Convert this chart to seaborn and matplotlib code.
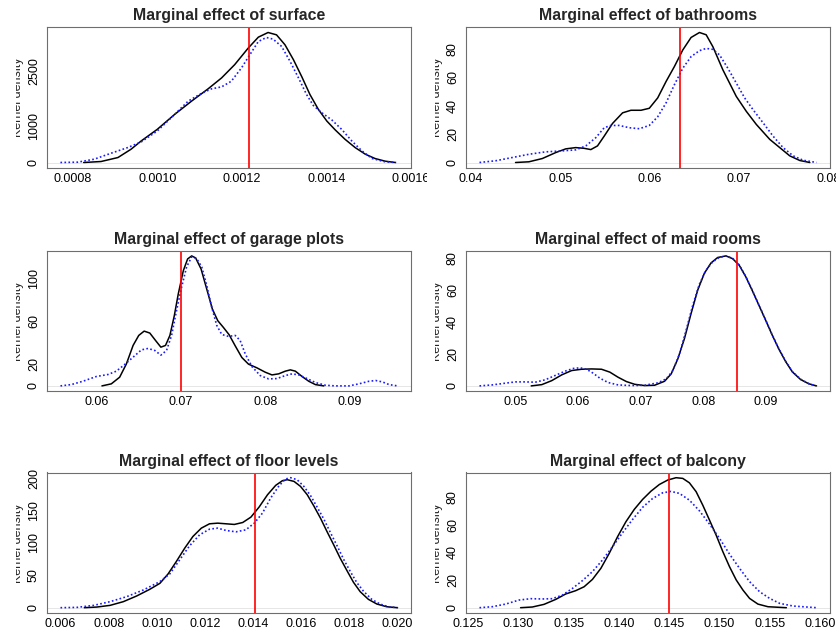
#!/usr/bin/env python3
"""Kernel densities of six marginal effects (3x2 grid, R base-graphics look)."""

import matplotlib

matplotlib.use("Agg")
import matplotlib.pyplot as plt
import seaborn as sns
from matplotlib.transforms import Bbox, TransformedBbox

FIG_W, FIG_H = 836, 633

# --- surface -------------------------------------------------------------
SURFACE_X_SOLID = [0.000826, 0.000867, 0.000907, 0.000938, 0.000962, 0.001000, 0.001041,
                   0.001081, 0.001120, 0.001152, 0.001183, 0.001215, 0.001239, 0.001262,
                   0.001282, 0.001302, 0.001322, 0.001342, 0.001361, 0.001381, 0.001401,
                   0.001421, 0.001444, 0.001468, 0.001492, 0.001515, 0.001539, 0.001563]
SURFACE_Y_SOLID = [0, 27, 136, 364, 591, 909, 1318, 1682, 2018, 2318, 2682, 3136, 3436,
                   3564, 3500, 3227, 2818, 2345, 1864, 1455, 1136, 891, 636, 409, 227,
                   109, 36, 0]
SURFACE_X_DOTTED = [0.000771, 0.000812, 0.000851, 0.000891, 0.000930, 0.000962, 0.001000,
                    0.001033, 0.001073, 0.001104, 0.001128, 0.001152, 0.001175, 0.001199,
                    0.001219, 0.001239, 0.001258, 0.001274, 0.001294, 0.001314, 0.001334,
                    0.001353, 0.001369, 0.001389, 0.001413, 0.001436, 0.001460, 0.001484,
                    0.001508, 0.001539, 0.001565]
SURFACE_Y_DOTTED = [0, 9, 91, 255, 409, 564, 864, 1227, 1682, 1891, 2018, 2073, 2227,
                    2591, 2955, 3318, 3427, 3382, 3182, 2773, 2318, 1864, 1564, 1364,
                    1164, 909, 591, 318, 109, 18, 0]
SURFACE_ESTIMATE = 0.001216

# --- bathrooms -----------------------------------------------------------
BATH_X_SOLID = [0.04498, 0.04648, 0.04798, 0.04948, 0.05060, 0.05172, 0.05266, 0.05341,
                0.05416, 0.05491, 0.05584, 0.05697, 0.05790, 0.05903, 0.05996, 0.06090,
                0.06184, 0.06277, 0.06371, 0.06464, 0.06558, 0.06633, 0.06708, 0.06820,
                0.06970, 0.07082, 0.07195, 0.07345, 0.07457, 0.07569, 0.07682, 0.07794]
BATH_Y_SOLID = [0, 0.5, 2.8, 7.0, 9.6, 10.5, 10.0, 9.1, 11.7, 18.6, 27.5, 35.0, 36.8, 36.8,
                38.2, 45.5, 57.1, 67.6, 79.3, 88.1, 91.6, 90.0, 81.6, 65.3, 46.6, 36.1,
                26.8, 16.3, 10.5, 4.7, 1.4, 0]
BATH_X_DOTTED = [0.04094, 0.04273, 0.04461, 0.04648, 0.04835, 0.05022, 0.05172, 0.05285,
                 0.05397, 0.05491, 0.05566, 0.05659, 0.05772, 0.05884, 0.05996, 0.06090,
                 0.06184, 0.06277, 0.06371, 0.06464, 0.06558, 0.06633, 0.06708, 0.06783,
                 0.06876, 0.06970, 0.07064, 0.07157, 0.07270, 0.07382, 0.07494, 0.07607,
                 0.07719, 0.07869]
BATH_Y_DOTTED = [0, 1.2, 3.5, 5.8, 7.5, 8.2, 8.9, 11.7, 17.5, 24.5, 26.1, 26.1, 24.5, 23.8,
                 26.1, 32.2, 42.0, 54.8, 66.4, 74.6, 78.8, 80.4, 79.7, 75.8, 66.4, 56.0,
                 45.5, 37.3, 28.0, 18.6, 10.5, 4.7, 1.6, 0]
BATH_ESTIMATE = 0.06337

# --- garage plots --------------------------------------------------------
GARAGE_X_SOLID = [0.06067, 0.06178, 0.06277, 0.06357, 0.06436, 0.06503, 0.06567, 0.06634,
                  0.06702, 0.06765, 0.06820, 0.06872, 0.06924, 0.06971, 0.07031, 0.07082,
                  0.07130, 0.07177, 0.07241, 0.07308, 0.07375, 0.07439, 0.07506, 0.07574,
                  0.07645, 0.07724, 0.07803, 0.07902, 0.08002, 0.08081, 0.08160, 0.08239,
                  0.08299, 0.08358, 0.08438, 0.08517, 0.08596, 0.08695]
GARAGE_Y_SOLID = [0, 1.9, 8.1, 20.5, 37.6, 46.9, 50.9, 49.1, 42.2, 36.0, 37.6, 46.9, 65.2,
                  85.4, 107.1, 118.0, 120.8, 118.9, 108.7, 90.1, 71.4, 60.6, 54.3, 47.5,
                  37.3, 26.4, 20.2, 16.8, 12.7, 10.2, 11.2, 13.7, 14.9, 13.7, 8.7, 4.3,
                  1.2, 0]
GARAGE_X_DOTTED = [0.05576, 0.05703, 0.05841, 0.06000, 0.06139, 0.06238, 0.06337, 0.06436,
                   0.06535, 0.06614, 0.06694, 0.06765, 0.06832, 0.06892, 0.06951, 0.07011,
                   0.07070, 0.07130, 0.07189, 0.07249, 0.07308, 0.07367, 0.07427, 0.07486,
                   0.07566, 0.07645, 0.07704, 0.07764, 0.07843, 0.07942, 0.08041, 0.08140,
                   0.08239, 0.08319, 0.08398, 0.08477, 0.08596, 0.08715, 0.08834, 0.08993,
                   0.09111, 0.09230, 0.09310, 0.09389, 0.09469, 0.09568]
GARAGE_Y_DOTTED = [0, 1.2, 4.3, 8.7, 10.6, 13.7, 19.9, 26.7, 33.5, 34.8, 32.9, 28.6, 32.9,
                   46.9, 70.2, 91.9, 110.6, 119.9, 118.3, 110.6, 93.5, 73.3, 56.2, 47.8,
                   46.0, 46.9, 42.2, 29.8, 18.0, 9.6, 6.5, 6.8, 9.6, 11.2, 10.2, 7.5, 3.1,
                   0.6, 0, 0, 1.9, 4.3, 5.0, 3.7, 1.2, 0]
GARAGE_ESTIMATE = 0.0700

# --- maid rooms ----------------------------------------------------------
MAID_X_SOLID = [0.05254, 0.05424, 0.05583, 0.05742, 0.05901, 0.06060, 0.06219, 0.06377,
                0.06510, 0.06642, 0.06775, 0.06907, 0.07066, 0.07225, 0.07384, 0.07490,
                0.07596, 0.07702, 0.07808, 0.07914, 0.08020, 0.08126, 0.08232, 0.08364,
                0.08470, 0.08576, 0.08682, 0.08788, 0.08894, 0.09000, 0.09106, 0.09212,
                0.09318, 0.09424, 0.09556, 0.09689, 0.09811]
MAID_Y_SOLID = [0, 0.8, 3.3, 6.9, 9.6, 10.4, 10.6, 10.4, 8.6, 5.4, 2.7, 1.0, 0.2, 0.4,
                2.9, 7.5, 16.9, 29.6, 45.3, 59.9, 70.4, 76.8, 80.2, 81.2, 79.5, 75.4,
                68.1, 59.3, 50.1, 40.9, 31.5, 22.8, 15.2, 8.8, 4.0, 1.3, 0]
MAID_X_DOTTED = [0.04428, 0.04629, 0.04841, 0.05000, 0.05159, 0.05318, 0.05477, 0.05636,
                 0.05795, 0.05927, 0.06033, 0.06139, 0.06245, 0.06351, 0.06483, 0.06642,
                 0.06854, 0.07066, 0.07278, 0.07411, 0.07517, 0.07623, 0.07728, 0.07834,
                 0.07940, 0.08046, 0.08152, 0.08258, 0.08364, 0.08470, 0.08576, 0.08682,
                 0.08788, 0.08894, 0.09000, 0.09106, 0.09212, 0.09318, 0.09424, 0.09556,
                 0.09689, 0.09795]
MAID_Y_DOTTED = [0, 0.6, 1.7, 2.5, 2.5, 2.3, 3.8, 6.5, 9.2, 10.9, 11.3, 10.4, 7.9, 4.8,
                 2.1, 0.6, 0.2, 0.4, 1.9, 4.4, 9.6, 20.0, 34.7, 50.3, 63.5, 72.2, 77.5,
                 80.2, 81.2, 79.7, 75.6, 68.3, 59.5, 50.3, 41.1, 31.7, 23.0, 15.4, 9.0,
                 4.2, 1.4, 0]
MAID_ESTIMATE = 0.08534

# --- floor levels --------------------------------------------------------
FLOOR_X_SOLID = [0.00699, 0.00751, 0.00806, 0.00861, 0.00916, 0.00971, 0.01013, 0.01047,
                 0.01081, 0.01116, 0.01150, 0.01185, 0.01219, 0.01253, 0.01288, 0.01322,
                 0.01357, 0.01391, 0.01425, 0.01460, 0.01494, 0.01522, 0.01542, 0.01570,
                 0.01597, 0.01625, 0.01652, 0.01680, 0.01707, 0.01735, 0.01762, 0.01790,
                 0.01817, 0.01845, 0.01879, 0.01914, 0.01955, 0.02000]
FLOOR_Y_SOLID = [0, 1.0, 3.6, 9.3, 18.0, 28.4, 37.6, 52.1, 71.1, 91.8, 109.8, 122.7,
                 129.4, 130.4, 129.4, 128.4, 131.4, 139.7, 155.2, 174.2, 188.7, 195.9,
                 197.4, 194.8, 187.1, 174.2, 157.2, 138.1, 117.5, 96.9, 76.3, 57.2, 39.2,
                 24.7, 12.9, 5.7, 1.5, 0]
FLOOR_X_DOTTED = [0.00600, 0.00669, 0.00738, 0.00806, 0.00875, 0.00944, 0.01013, 0.01054,
                  0.01095, 0.01136, 0.01178, 0.01219, 0.01253, 0.01288, 0.01329, 0.01370,
                  0.01405, 0.01439, 0.01473, 0.01508, 0.01535, 0.01556, 0.01583, 0.01611,
                  0.01639, 0.01666, 0.01694, 0.01721, 0.01749, 0.01776, 0.01804, 0.01831,
                  0.01859, 0.01893, 0.01927, 0.01962, 0.02000]
FLOOR_Y_DOTTED = [0, 0.5, 3.6, 9.3, 17.0, 27.3, 40.2, 52.1, 73.7, 95.4, 112.4, 121.1,
                  122.7, 119.1, 117.0, 120.1, 130.4, 145.9, 169.1, 188.1, 198.5, 200.5,
                  197.4, 187.1, 172.7, 155.2, 136.6, 116.0, 95.4, 74.7, 55.7, 38.7, 25.3,
                  12.9, 5.7, 1.5, 0]
FLOOR_ESTIMATE = 0.01409

# --- balcony -------------------------------------------------------------
BALCONY_X_SOLID = [0.13022, 0.13139, 0.13255, 0.13372, 0.13471, 0.13571, 0.13654, 0.13737,
                   0.13821, 0.13904, 0.13987, 0.14070, 0.14153, 0.14236, 0.14320, 0.14403,
                   0.14486, 0.14569, 0.14636, 0.14702, 0.14769, 0.14835, 0.14902, 0.14968,
                   0.15035, 0.15101, 0.15168, 0.15235, 0.15301, 0.15384, 0.15484, 0.15667]
BALCONY_Y_SOLID = [0, 0.5, 2.4, 6.0, 9.9, 12.3, 15.1, 20.4, 28.4, 39.2, 51.2, 62.0, 70.9,
                   78.1, 84.1, 88.9, 92.1, 93.8, 93.3, 90.1, 83.7, 74.0, 63.2, 52.4, 40.4,
                   29.6, 20.0, 12.7, 6.7, 2.6, 0.7, 0]
BALCONY_X_DOTTED = [0.12613, 0.12740, 0.12873, 0.13006, 0.13122, 0.13239, 0.13338,
                    0.13438, 0.13538, 0.13637, 0.13737, 0.13837, 0.13937, 0.14037,
                    0.14137, 0.14236, 0.14336, 0.14436, 0.14519, 0.14602, 0.14702,
                    0.14802, 0.14902, 0.15002, 0.15101, 0.15201, 0.15301, 0.15401,
                    0.15501, 0.15601, 0.15734, 0.15967]
BALCONY_Y_DOTTED = [0, 0.7, 2.6, 5.5, 6.5, 6.3, 6.5, 9.1, 13.9, 19.5, 26.0, 34.4, 44.0,
                    54.1, 63.7, 72.4, 78.8, 82.9, 83.9, 82.5, 77.6, 69.9, 60.3, 50.0,
                    38.7, 28.4, 18.8, 11.5, 6.7, 3.1, 1.2, 0]
BALCONY_ESTIMATE = 0.1450

TITLES = [
    "Marginal effect of surface",
    "Marginal effect of bathrooms",
    "Marginal effect of garage plots",
    "Marginal effect of maid rooms",
    "Marginal effect of floor levels",
    "Marginal effect of balcony",
]

X_TICKS = [
    ["0.0008", "0.0010", "0.0012", "0.0014", "0.0016"],
    ["0.04", "0.05", "0.06", "0.07", "0.08"],
    ["0.06", "0.07", "0.08", "0.09"],
    ["0.05", "0.06", "0.07", "0.08", "0.09"],
    ["0.006", "0.008", "0.010", "0.012", "0.014", "0.016", "0.018", "0.020"],
    ["0.125", "0.130", "0.135", "0.140", "0.145", "0.150", "0.155", "0.160"],
]
Y_TICKS = [
    [0, 500, 1000, 1500, 2000, 2500, 3000, 3500],
    [0, 20, 40, 60, 80],
    [0, 20, 40, 60, 80, 100, 120],
    [0, 20, 40, 60, 80],
    [0, 50, 100, 150, 200],
    [0, 20, 40, 60, 80],
]
# R drops labels that would overlap
Y_LABELS = [
    ["0", "", "1000", "", "", "2500", "", ""],
    ["0", "20", "40", "60", "80"],
    ["0", "20", "", "60", "", "100", ""],
    ["0", "20", "40", "60", "80"],
    ["0", "50", "100", "150", "200"],
    ["0", "20", "40", "60", "80"],
]

PANELS = [
    (SURFACE_X_SOLID, SURFACE_Y_SOLID, SURFACE_X_DOTTED, SURFACE_Y_DOTTED, SURFACE_ESTIMATE),
    (BATH_X_SOLID, BATH_Y_SOLID, BATH_X_DOTTED, BATH_Y_DOTTED, BATH_ESTIMATE),
    (GARAGE_X_SOLID, GARAGE_Y_SOLID, GARAGE_X_DOTTED, GARAGE_Y_DOTTED, GARAGE_ESTIMATE),
    (MAID_X_SOLID, MAID_Y_SOLID, MAID_X_DOTTED, MAID_Y_DOTTED, MAID_ESTIMATE),
    (FLOOR_X_SOLID, FLOOR_Y_SOLID, FLOOR_X_DOTTED, FLOOR_Y_DOTTED, FLOOR_ESTIMATE),
    (BALCONY_X_SOLID, BALCONY_Y_SOLID, BALCONY_X_DOTTED, BALCONY_Y_DOTTED, BALCONY_ESTIMATE),
]

# layout in pixels (R mfrow=c(3,2) plot regions)
COL_LEFT = [47, 466]
ROW_TOP = [27.3, 250.7, 472.5]
AX_W, AX_H = 364, 140.4
FRAME = "#6e6e6e"


def pixel_clip(fig, x0, x1):
    box = Bbox.from_extents(x0 / FIG_W, 0, x1 / FIG_W, 1)
    return TransformedBbox(box, fig.transFigure)


def draw_panel(fig, ax, idx):
    xs, ys, xd, yd, est = PANELS[idx]

    ax.axhline(0, color="#dcdcdc", lw=0.5, zorder=0)
    sns.lineplot(x=xs, y=ys, ax=ax, color="black", lw=1.1, errorbar=None)
    sns.lineplot(x=xd, y=yd, ax=ax, color="#1a1aff", lw=1.2,
                 linestyle=(0, (1, 1.4)), errorbar=None)
    ax.axvline(est, color="red", lw=1.2)
    ax.margins(x=0.04, y=0.04)

    xt = X_TICKS[idx]
    ax.set_xticks([float(t) for t in xt])
    ax.set_xticklabels(xt)
    ax.set_yticks(Y_TICKS[idx])
    ax.set_yticklabels(Y_LABELS[idx], rotation=90, va="center")

    ax.set_title(TITLES[idx], fontsize=11.4, fontweight="bold", pad=5)
    ax.set_xlabel("")
    ax.set_ylabel("Kernel density", fontsize=9, labelpad=3)

    for side in ax.spines.values():
        side.set_visible(True)
        side.set_color(FRAME)
        side.set_linewidth(0.8)
    ax.tick_params(direction="out", length=2.9, width=0.8, color=FRAME,
                   labelsize=9, labelcolor="black")
    ax.tick_params(axis="x", pad=0.8)
    ax.tick_params(axis="y", pad=2.2)

    # the y label is cut by the figure region in the original
    left = COL_LEFT[idx % 2]
    ax.yaxis.label.set_clip_on(True)
    ax.yaxis.label.set_clip_box(pixel_clip(fig, left - 31.5, left))


def main() -> None:
    sns.set_theme(style="white")
    plt.rcParams["font.family"] = ["Liberation Sans", "DejaVu Sans"]

    fig = plt.figure(figsize=(FIG_W / 100, FIG_H / 100), dpi=100)
    axes = []
    for idx in range(6):
        row, col = divmod(idx, 2)
        rect = [COL_LEFT[col] / FIG_W, 1 - (ROW_TOP[row] + AX_H) / FIG_H,
                AX_W / FIG_W, AX_H / FIG_H]
        ax = fig.add_axes(rect)
        draw_panel(fig, ax, idx)
        axes.append(ax)

    # "0.0016" is cut where the next figure region starts
    last = axes[0].get_xticklabels()[-1]
    last.set_clip_on(True)
    last.set_clip_box(pixel_clip(fig, 0, 427))

    fig.savefig("out.png", dpi=100)
    plt.close(fig)


if __name__ == "__main__":
    main()
